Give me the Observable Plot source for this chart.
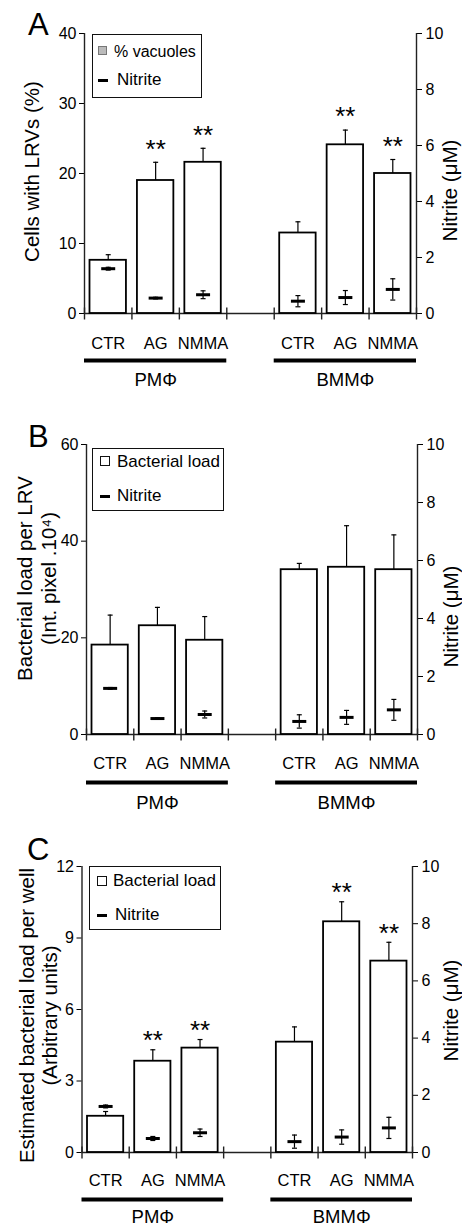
<!DOCTYPE html>
<html><head><meta charset="utf-8">
<script src="https://cdn.jsdelivr.net/npm/d3@7"></script>
<script src="https://cdn.jsdelivr.net/npm/@observablehq/plot@0.6"></script>
<style>
html,body{margin:0;padding:0;background:#fff;}
body{font-family:"Liberation Sans",Arial,sans-serif;color:#000;width:462px;}
.panel{position:relative;width:462px;}
.letter{position:absolute;font-size:31px;line-height:31px;}
.legend{position:absolute;border:1.5px solid #111;background:#fff;box-sizing:border-box;}
.lg{position:absolute;font-size:17px;line-height:17px;white-space:nowrap;}
.sq{position:absolute;box-sizing:border-box;}
.dash{position:absolute;background:#000;height:3px;}
</style></head>
<body><div id="root"></div>
<script>
// ---------- data ----------
const cats = ["CTR", "AG", "NMMA"];
const groupNames = ["PMΦ", "BMMΦ"];
const rightTicks = [0, 2, 4, 6, 8, 10];

// Panel A: % cells with LRVs
const ticksA = [0, 10, 20, 30, 40];
const vacuoles = [7.6, 19.0, 21.6, 11.5, 24.1, 20.0];
const vacuolesErr = [0.8, 2.6, 2.0, 1.6, 2.1, 2.0];
const nitriteA = [1.6, 0.55, 0.67, 0.44, 0.57, 0.86];
const nitriteAErr = [0.05, 0.03, 0.14, 0.2, 0.25, 0.38];
const starsA = [false, true, true, false, true, true];

// Panel B: bacterial load per LRV
const ticksB = [0, 20, 40, 60];
const loadB = [18.5, 22.5, 19.5, 34.1, 34.6, 34.1];
const loadBErr = [6.2, 3.8, 4.9, 1.3, 8.6, 7.2];
const nitriteB = [1.59, 0.55, 0.69, 0.45, 0.59, 0.85];
const nitriteBErr = [0.03, 0.03, 0.12, 0.23, 0.24, 0.36];
const starsB = [false, false, false, false, false, false];

// Panel C: estimated bacterial load per well
const ticksC = [0, 3, 6, 9, 12];
const loadC = [1.52, 3.83, 4.38, 4.63, 9.68, 8.03];
const loadCErr = [0.2, 0.48, 0.36, 0.64, 0.84, 0.79];
const nitriteC = [1.61, 0.49, 0.69, 0.38, 0.54, 0.86];
const nitriteCErr = [0.05, 0.07, 0.13, 0.23, 0.25, 0.37];
const starsC = [false, true, true, false, true, true];

// ---------- helpers ----------
const FONT = "Liberation Sans, Arial, sans-serif";
const hline = {draw(ctx, size) { const r = Math.sqrt(size / Math.PI); ctx.moveTo(-r, 0); ctx.lineTo(r, 0); }};
const vline = {draw(ctx, size) { const r = Math.sqrt(size / Math.PI); ctx.moveTo(0, -r); ctx.lineTo(0, r); }};

function makePanel(cfg) {
  const nMax = d3.max(rightTicks);
  const k = cfg.yMax / nMax;
  const step = cats.length + 1;
  const nSlots = groupNames.length * step - 1;
  const rows = groupNames.flatMap((g, gi) => cats.map((c, ci) => ({group: g, cat: c, slot: gi * step + ci})))
    .map((d, i) => ({...d, v: cfg.values[i], e: cfg.errors[i], n: cfg.nitrite[i] * k, ne: cfg.nitriteErr[i] * k, star: cfg.stars[i]}));
  const groups = groupNames.map((g, gi) => ({name: g, start: gi * step, end: gi * step + cats.length}));
  const bounds = d3.range(nSlots + 1);
  const mid = d => d.slot + 0.5;

  const plot = Plot.plot({
    width: 462, height: cfg.height,
    marginTop: cfg.mt, marginBottom: cfg.mb, marginLeft: cfg.ml, marginRight: cfg.mr,
    x: {type: "linear", domain: d3.extent(bounds), axis: null},
    y: {domain: [0, cfg.yMax], axis: null},
    style: {fontFamily: FONT, fontSize: "16px", background: "white", color: "black", overflow: "visible"},
    marks: [
      Plot.axisY({anchor: "left", ticks: cfg.leftTicks, tickSize: 5, tickPadding: 3, label: null}),
      Plot.axisY({anchor: "right", ticks: rightTicks.map(t => t * k), tickFormat: d => String(Math.round(d / k * 100) / 100), tickSize: 5, tickPadding: 4, label: null}),
      Plot.ruleX(d3.extent(bounds), {stroke: "#222", strokeWidth: 1.4}),
      Plot.ruleY([0], {stroke: "#222", strokeWidth: 1.4}),
      Plot.dot(bounds, {x: d => d, y: () => 0, symbol: vline, r: 6, fill: "none", stroke: "#222", strokeWidth: 1.4}),
      Plot.rectY(rows, {x1: "slot", x2: d => d.slot + 1, y: "v", fill: "white", stroke: "black", strokeWidth: 1.8, insetLeft: 5.5, insetRight: 5.5}),
      Plot.ruleX(rows, {x: mid, y1: "v", y2: d => d.v + d.e, stroke: "black", strokeWidth: 1.2}),
      Plot.dot(rows, {x: mid, y: d => d.v + d.e, symbol: hline, r: 2.5, fill: "none", stroke: "black", strokeWidth: 1.2}),
      Plot.ruleX(rows, {x: mid, y1: d => d.n - d.ne, y2: d => d.n + d.ne, stroke: "black", strokeWidth: 1.2}),
      Plot.dot(rows, {x: mid, y: d => d.n - d.ne, symbol: hline, r: 2.5, fill: "none", stroke: "black", strokeWidth: 1.2}),
      Plot.dot(rows, {x: mid, y: d => d.n + d.ne, symbol: hline, r: 2.5, fill: "none", stroke: "black", strokeWidth: 1.2}),
      Plot.dot(rows, {x: mid, y: "n", symbol: hline, r: 7, fill: "none", stroke: "black", strokeWidth: 3}),
      Plot.text(rows.filter(d => d.star), {x: mid, y: d => d.v + d.e, text: () => "**", fontSize: 26, lineAnchor: "middle", dy: cfg.starDy}),
      Plot.text(rows, {x: mid, text: "cat", frameAnchor: "bottom", lineAnchor: "middle", dy: cfg.catDy, fontSize: 16.5}),
      Plot.ruleY(groups, {x1: "start", x2: "end", y: () => 0, dy: cfg.lineDy, stroke: "black", strokeWidth: 4}),
      Plot.text(groups, {x: d => (d.start + d.end) / 2, text: "name", frameAnchor: "bottom", lineAnchor: "middle", dy: cfg.groupDy, fontSize: 18.5}),
      Plot.text([cfg.leftTitle], {text: d => d, frameAnchor: "left", rotate: -90, textAnchor: "middle", lineAnchor: "middle", lineHeight: 1.15, dx: cfg.ltDx, dy: cfg.ltDy, fontSize: 20.5}),
      Plot.text([cfg.rightTitle], {text: d => d, frameAnchor: "right", rotate: -90, textAnchor: "middle", lineAnchor: "middle", dx: cfg.rtDx, dy: cfg.rtDy, fontSize: 20.5})
    ]
  });

  const div = document.createElement("div");
  div.className = "panel";
  div.style.height = cfg.height + "px";
  div.appendChild(plot);
  const L = cfg.legend;
  div.insertAdjacentHTML("beforeend",
    `<div class="letter" style="left:${cfg.letterX}px;top:${cfg.letterY}px">${cfg.letter}</div>
     <div class="legend" style="left:${L.x}px;top:${L.y}px;width:${L.w}px;height:${L.h}px"></div>
     <div class="sq" style="left:${L.sqX}px;top:${L.sqY}px;width:${L.sqS}px;height:${L.sqS}px;background:${L.sqFill};border:1.2px solid ${L.sqStroke}"></div>
     <div class="lg" style="left:${L.t1X}px;top:${L.t1Y}px;font-size:${L.fs1}px">${L.label1}</div>
     <div class="dash" style="left:${L.sqX}px;top:${L.dY}px;width:10px"></div>
     <div class="lg" style="left:${L.t2X}px;top:${L.t2Y}px">${L.label2}</div>`);
  return div;
}

const root = document.getElementById("root");
root.appendChild(makePanel({
  letter: "A", letterX: 28, letterY: 9,
  height: 400, mt: 33, mb: 87, ml: 84, mr: 46,
  yMax: 40, leftTicks: ticksA,
  values: vacuoles, errors: vacuolesErr, nitrite: nitriteA, nitriteErr: nitriteAErr, stars: starsA,
  starDy: -13, catDy: 30, lineDy: 47, groupDy: 67,
  leftTitle: "Cells with LRVs (%)", ltDx: -53, ltDy: -2,
  rightTitle: "Nitrite (μM)", rtDx: 34, rtDy: 17,
  legend: {x: 92, y: 34, w: 110, h: 64, sqX: 98, sqY: 46, sqS: 9, sqFill: "#bbb", sqStroke: "#777",
    t1X: 114, t1Y: 43, label1: "% vacuoles", fs1: 16, dY: 78.5, t2X: 117, t2Y: 71, label2: "Nitrite"}
}));
root.appendChild(makePanel({
  letter: "B", letterX: 28, letterY: 21,
  height: 410, mt: 44, mb: 76, ml: 86, mr: 45,
  yMax: 60, leftTicks: ticksB,
  values: loadB, errors: loadBErr, nitrite: nitriteB, nitriteErr: nitriteBErr, stars: starsB,
  starDy: -13, catDy: 29, lineDy: 48, groupDy: 69,
  leftTitle: "Bacterial load per LRV\n(Int. pixel .10\u2074)", ltDx: -50, ltDy: -11,
  rightTitle: "Nitrite (μM)", rtDx: 34, rtDy: 27,
  legend: {x: 92, y: 48, w: 132, h: 63, sqX: 100, sqY: 56, sqS: 10, sqFill: "#fff", sqStroke: "#111",
    t1X: 117, t1Y: 53, label1: "Bacterial load", fs1: 17, dY: 95, t2X: 117, t2Y: 87, label2: "Nitrite"}
}));
root.appendChild(makePanel({
  letter: "C", letterX: 27, letterY: 24,
  height: 420, mt: 56, mb: 78, ml: 81.5, mr: 50,
  yMax: 12, leftTicks: ticksC,
  values: loadC, errors: loadCErr, nitrite: nitriteC, nitriteErr: nitriteCErr, stars: starsC,
  starDy: -9, catDy: 28, lineDy: 47, groupDy: 65,
  leftTitle: "Estimated bacterial load per well\n(Arbitrary units)", ltDx: -44, ltDy: 6,
  rightTitle: "Nitrite (μM)", rtDx: 39, rtDy: 1,
  legend: {x: 89, y: 56, w: 132, h: 64, sqX: 97, sqY: 66, sqS: 10, sqFill: "#fff", sqStroke: "#111",
    t1X: 113, t1Y: 62, label1: "Bacterial load", fs1: 17, dY: 103.5, t2X: 115, t2Y: 96, label2: "Nitrite"}
}));
</script></body></html>
